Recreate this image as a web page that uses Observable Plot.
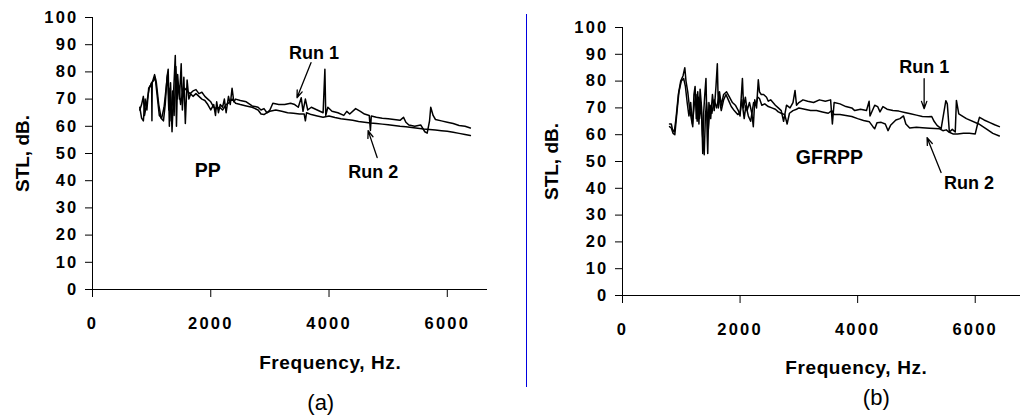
<!DOCTYPE html>
<html><head><meta charset="utf-8">
<script src="https://cdn.jsdelivr.net/npm/d3@7"></script>
<script src="https://cdn.jsdelivr.net/npm/@observablehq/plot@0.6"></script>
<style>
body{margin:0;background:#fff;}
#wrap{position:relative;width:1020px;height:419px;display:flex;}
#divider{position:absolute;left:526px;top:14px;width:1px;height:373px;background:#0000e0;}
svg text{font-family:"Liberation Sans",Arial,sans-serif;}
g[aria-label="y-axis tick label"] text, g[aria-label="x-axis tick label"] text{letter-spacing:2.2px;}
g.wide text{letter-spacing:0.6px;}
</style></head><body><div id="wrap"></div>
<script>
// ---- tick values ----
const xTicks = [0, 2000, 4000, 6000];
const yTicks = [0, 10, 20, 30, 40, 50, 60, 70, 80, 90, 100];

// ---- (a) PP ----
const ppRun1Hz = [800,830,860,890,920,950,980,1000,1005,1010,1050,1080,1120,1160,1200,1230,1260,1280,1300,1320,1345,1370,1400,1420,1440,1470,1500,1520,1545,1570,1600,1630,1660,1700,1750,1800,1850,1900,1950,2000,2050,2080,2100,2130,2160,2200,2230,2260,2300,2330,2360,2390,2420,2500,2600,2700,2800,2850,2900,2950,3000,3050,3150,3250,3350,3420,3480,3530,3560,3600,3640,3700,3800,3900,3930,3945,3980,4050,4150,4250,4300,4350,4450,4530,4600,4680,4700,4715,4800,4900,5000,5100,5200,5260,5300,5350,5450,5550,5620,5660,5700,5720,5760,5800,5900,6000,6100,6200,6300,6390];
const ppRun1Db = [67,63,62,70,66,74,75,76,62,76,79,76,68,63,62,68,78,81,60,76,58,72,86,60,79,70,83,66,78,61,77,70,72,71,72,71,70,69.5,68,66,68,64,69,65,68,67,70,65,71,68,74,69,70,69.5,69,67.5,67,66,66.5,65,66,68.5,68,68,68.5,68,67,70.5,65.5,70,66,67,66,65,81,64,67,65.5,65,64,65.5,64.5,66.5,65.5,64.5,64,58.5,63.8,63.3,63,62.8,62.5,62.2,63.3,61.5,60.5,60,60.5,58,57.5,62,67,64,62.5,62,61.5,61,60.3,60,59.4];
const ppRun2Hz = [800,830,860,880,920,960,1000,1040,1060,1090,1130,1170,1210,1240,1270,1290,1310,1330,1355,1380,1410,1430,1460,1490,1520,1560,1600,1650,1700,1750,1800,1850,1900,1950,2000,2050,2100,2150,2200,2260,2300,2360,2420,2500,2600,2700,2800,2850,2900,2950,3000,3100,3200,3300,3400,3500,3580,3600,3620,3700,3800,3900,4000,4100,4200,4300,4400,4500,4600,4700,4800,4900,5000,5100,5200,5300,5400,5500,5600,5700,5800,5900,6000,6100,6200,6300,6390];
const ppRun2Db = [66,68,71,64,69,74,76,77,78,72,64,63,67,73,79,66,74,62,73,64,82,70,75,68,72,74,73,72,73,73.5,72,72.5,71,70,69,67,66.5,67,66,68,68.5,70,68.5,68,67.5,67,66,64.5,64.3,65,65.5,66,65.5,65,64.8,64.5,64.5,62,65,64.3,63.8,63.3,63.8,63.2,62.8,62.5,62.2,61.8,61.5,61.2,61,60.8,60.6,60.3,60,59.8,59.6,59.3,59,58.8,58.6,58.4,58.2,57.8,57.4,57,56.6];

// ---- (b) GFRPP ----
const gfRun1Hz = [800,830,850,880,910,950,990,1030,1060,1080,1110,1140,1170,1195,1215,1235,1255,1280,1300,1320,1345,1365,1380,1400,1420,1440,1450,1470,1500,1530,1560,1590,1613,1630,1650,1680,1720,1770,1820,1870,1920,1970,2000,2040,2060,2090,2120,2160,2200,2225,2250,2280,2310,2330,2360,2400,2450,2480,2520,2560,2600,2650,2700,2740,2790,2850,2900,2935,2960,3000,3070,3150,3250,3350,3450,3540,3570,3600,3700,3800,3900,3950,4050,4150,4195,4210,4290,4340,4380,4430,4500,4600,4700,4800,4900,5000,5100,5200,5260,5300,5350,5420,5500,5525,5560,5610,5660,5680,5720,5850,6060,6200,6300,6410];
const gfRun1Db = [64,64,62,61,66,75,80,82,85,80,76,70,66,63,75,78,66,76,64,77,70,53,68,75,81,60,53,72,66,75,69,78,86.5,70,76,71,75,76,74,72,71,69,67,81,70,74,69,72,68,63,73,70,80.5,76,75,75,74,72.5,73,72,71,70,69,65,71,70,72,76.5,71,72,73,72.5,72,73,72.5,73,64,72,71.5,70.5,70,69,69.5,69,72.5,67,71,70.5,68.5,70.5,69.5,69,68.8,68.3,67.8,67.3,66.8,66.7,66.8,65,63.5,62.3,72.7,71.5,61,62,61,72.8,67.8,66,64,62,60.5,59.5];
const gfRun2Hz = [800,830,860,890,920,960,1000,1040,1070,1100,1130,1160,1190,1220,1250,1270,1290,1310,1335,1360,1390,1410,1430,1460,1490,1520,1560,1600,1640,1680,1720,1760,1800,1850,1900,1960,2000,2030,2070,2100,2140,2180,2230,2270,2300,2330,2370,2420,2480,2540,2600,2650,2700,2760,2800,2840,2900,2960,3000,3100,3200,3300,3400,3500,3560,3600,3700,3800,3900,4000,4100,4200,4260,4290,4330,4400,4470,4517,4560,4650,4720,4780,4820,4885,5000,5100,5224,5394,5450,5507,5560,5620,5700,5800,5900,6000,6040,6073,6150,6250,6330,6410];
const gfRun2Db = [63,62.5,60.5,60,67,76,80,81,78,72,67,72,64,71,75,65,74,66,72,60,52.5,67,72,62,71,68,73,70,74,69,73,75,73,70.5,69,67.5,68,73,66,71,67,65,72,71,74,73.5,71,71.5,70.5,70,69.5,68.5,68,67.5,64,68,69,69.5,70,69.5,69,69,68.5,68,69,67.5,67.5,67.2,66.8,66,65.3,64.8,63,62.2,64.5,64.6,64,61.5,63.5,65.5,66,67,64,62.5,62.8,62.6,62.4,62.2,61.5,61.8,60.9,60.3,60.3,60.5,60.5,60.3,64,66.5,65.5,64.5,63.7,63];

const runNames = ["Run 1", "Run 2"];
const yTitle = "STL, dB.";
const xTitle = "Frequency, Hz.";

function rowsOf(hzA, dbA, name){ return hzA.map((h,i)=>({run:name, hz:h, db:dbA[i]})); }

function panel(cfg){
  const rows = rowsOf(cfg.r1hz, cfg.r1db, runNames[0]).concat(rowsOf(cfg.r2hz, cfg.r2db, runNames[1]));
  return Plot.plot({
    width:510, height:419,
    marginLeft:cfg.ml, marginTop:cfg.mt, marginBottom:cfg.mb, marginRight:cfg.mr,
    x:{domain:cfg.xDomain},
    y:{domain:[0,100]},
    style:{fontFamily:'"Liberation Sans",Arial,sans-serif', fontWeight:"bold", fontSize:"16.5px", color:"#000", background:"#fff", overflow:"visible"},
    marks:[
      Plot.axisY({ticks:yTicks, tickSize:7, tickPadding:7, label:null, tickFormat:d=>String(d), fontSize:16.5}),
      Plot.axisX({ticks:xTicks, tickSize:8, tickPadding:20, label:null, tickFormat:d=>String(d), fontSize:16.5}),
      Plot.ruleY([0], {stroke:"#000"}),
      Plot.ruleX([0], {stroke:"#000"}),
      Plot.line(rows, {x:"hz", y:"db", z:"run", stroke:"#000", strokeWidth:1.5}),
      Plot.text([yTitle], {text:d=>d, frameAnchor:"left", dx:cfg.yLabelDx, rotate:-90, textAnchor:"middle", fontSize:19, fontWeight:"bold"}),
      Plot.text([xTitle], {text:d=>d, x:cfg.xLabelHz, y:0, dy:cfg.xLabelDy, fontSize:19, fontWeight:"bold", className:"wide"}),
      Plot.text(cfg.notes, {x:"x", y:"y", text:"t", fontSize:"s", fontWeight:"bold"}),
      Plot.arrow(cfg.arrows, {x1:"x1", y1:"y1", x2:"x2", y2:"y2", stroke:"#000", strokeWidth:1.3, headLength:9, headAngle:40}),
      Plot.text([cfg.caption], {text:d=>d, x:cfg.capHz, y:0, dy:cfg.capDy, fontSize:22, fontWeight:"normal"})
    ]
  });
}

const wrap = document.getElementById("wrap");
wrap.appendChild(panel({
  r1hz:ppRun1Hz, r1db:ppRun1Db, r2hz:ppRun2Hz, r2db:ppRun2Db,
  ml:92, mt:17, mb:130, mr:23, xDomain:[0,6680],
  yLabelDx:-70, xLabelHz:4020, xLabelDy:73, caption:"(a)", capHz:3860, capDy:113,
  notes:[{t:"Run 1", x:3746, y:87, s:18},{t:"Run 2", x:4746, y:43, s:18},{t:"PP", x:1949, y:43.7, s:19.5}],
  arrows:[{x1:3695,y1:83.4,x2:3458,y2:70.5},{x1:4814,y1:48.5,x2:4661,y2:58.4}]
}));
wrap.appendChild(panel({
  r1hz:gfRun1Hz, r1db:gfRun1Db, r2hz:gfRun2Hz, r2db:gfRun2Db,
  ml:112, mt:27, mb:124, mr:0, xDomain:[0,6770],
  yLabelDx:-70.6, xLabelHz:3978, xLabelDy:72, caption:"(b)", capHz:4317, capDy:102,
  notes:[{t:"Run 1", x:5131, y:85, s:18},{t:"Run 2", x:5893, y:41.8, s:18},{t:"GFRPP", x:3520, y:51.5, s:19.5}],
  arrows:[{x1:5131,y1:80.9,x2:5131,y2:69.7},{x1:5419,y1:45.9,x2:5181,y2:58.9}]
}));
const div = document.createElement("div");
div.id = "divider";
wrap.appendChild(div);
</script>
</body></html>
